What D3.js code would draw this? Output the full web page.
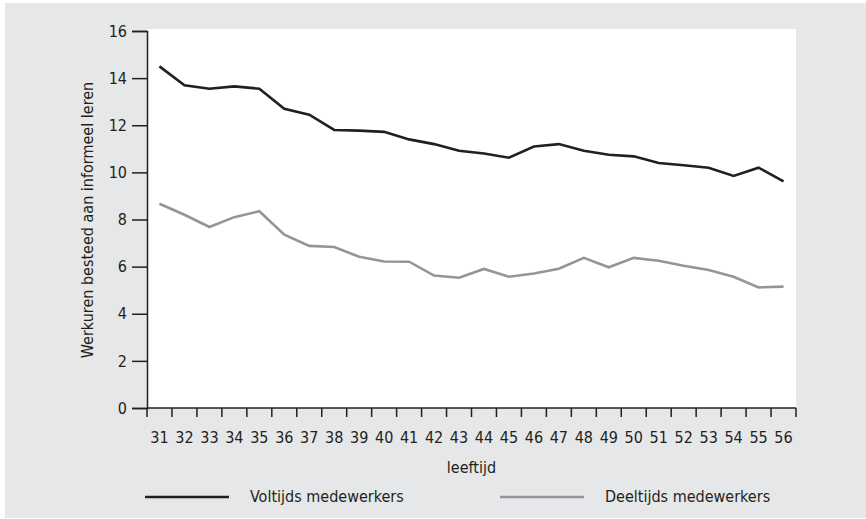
<html>
<head>
<script src="https://d3js.org/d3.v7.min.js"></script>
<style>
  body { margin: 0; background: #ffffff; }
  svg text { font-family: "Liberation Sans Narrow", "DejaVu Sans Condensed", "Roboto", sans-serif; fill: #231f20; }
</style>
</head>
<body>
<script>
// ages on the x axis
var ages = [31,32,33,34,35,36,37,38,39,40,41,42,43,44,45,46,47,48,49,50,51,52,53,54,55,56];

// hours spent on informal learning
var voltijds = [14.5,13.7,13.55,13.65,13.55,12.7,12.45,11.8,11.77,11.72,11.4,11.2,10.92,10.8,10.62,11.1,11.2,10.92,10.75,10.68,10.4,10.3,10.2,9.85,10.2,9.62];
var deeltijds = [8.67,8.2,7.68,8.1,8.35,7.36,6.88,6.83,6.42,6.22,6.21,5.62,5.53,5.9,5.57,5.71,5.91,6.37,5.97,6.37,6.25,6.04,5.86,5.57,5.12,5.15];

var yTicks = [0,2,4,6,8,10,12,14,16];

var width = 866, height = 519;
var plot = {left: 147, right: 796, top: 31, bottom: 408};

var svg = d3.select("body").append("svg")
    .attr("width", width)
    .attr("height", height);

svg.append("rect")
    .attr("x", 5).attr("y", 3)
    .attr("width", width - 5).attr("height", 515)
    .attr("fill", "#e6e7e8");

svg.append("rect")
    .attr("x", plot.left).attr("y", 29)
    .attr("width", plot.right - plot.left).attr("height", plot.bottom - 29)
    .attr("fill", "#ffffff");

var xScale = d3.scaleBand()
    .domain(ages)
    .range([plot.left, plot.right]);

var yScale = d3.scaleLinear()
    .domain([0, 16])
    .range([plot.bottom, plot.top]);

// y axis
var yAxis = d3.axisLeft(yScale)
    .tickValues(yTicks)
    .tickSize(15)
    .tickPadding(5);

var gy = svg.append("g")
    .attr("transform", "translate(" + plot.left + ",0)")
    .call(yAxis);
gy.select(".domain").attr("stroke", "#231f20").attr("stroke-width", 1.5);
gy.selectAll(".tick line").attr("stroke", "#231f20").attr("stroke-width", 1.5);
gy.selectAll(".tick text").style("font-size", "16px").attr("fill", "#231f20");

// x axis: ticks between the bands, labels at band centres
var gx = svg.append("g")
    .attr("transform", "translate(0," + plot.bottom + ")");

gx.append("line")
    .attr("x1", plot.left).attr("x2", plot.right)
    .attr("stroke", "#231f20").attr("stroke-width", 1.5);

var bounds = ages.map(function(a) { return xScale(a); }).concat([plot.right]);
gx.selectAll(".xt")
    .data(bounds)
    .enter()
    .append("line")
    .attr("x1", function(d) { return d; })
    .attr("x2", function(d) { return d; })
    .attr("y1", 0).attr("y2", 9)
    .attr("stroke", "#231f20").attr("stroke-width", 1.5);

gx.selectAll(".xl")
    .data(ages)
    .enter()
    .append("text")
    .attr("x", function(d) { return xScale(d) + xScale.bandwidth() / 2; })
    .attr("y", 35)
    .attr("text-anchor", "middle")
    .style("font-size", "16px")
    .text(function(d) { return d; });

// lines
var line = d3.line()
    .x(function(d, i) { return xScale(ages[i]) + xScale.bandwidth() / 2; })
    .y(function(d) { return yScale(d); });

svg.append("path")
    .datum(deeltijds)
    .attr("d", line)
    .attr("fill", "none")
    .attr("stroke", "#939598")
    .attr("stroke-width", 2.6);

svg.append("path")
    .datum(voltijds)
    .attr("d", line)
    .attr("fill", "none")
    .attr("stroke", "#231f20")
    .attr("stroke-width", 2.6);

// labels
svg.append("text")
    .attr("x", (plot.left + plot.right) / 2)
    .attr("y", 473)
    .attr("text-anchor", "middle")
    .style("font-size", "16px")
    .text("leeftijd");

svg.append("text")
    .attr("transform", "translate(93,220) rotate(-90)")
    .attr("text-anchor", "middle")
    .style("font-size", "16px")
    .text("Werkuren besteed aan informeel leren");

// legend
var legend = [
    {name: "Voltijds medewerkers", color: "#231f20", x: 145},
    {name: "Deeltijds medewerkers", color: "#939598", x: 500}
];
var lg = svg.selectAll(".legend")
    .data(legend)
    .enter()
    .append("g")
    .attr("transform", function(d) { return "translate(" + d.x + ",497)"; });
lg.append("line")
    .attr("x1", 0).attr("x2", 84)
    .attr("stroke", function(d) { return d.color; })
    .attr("stroke-width", 2.6);
lg.append("text")
    .attr("x", 105)
    .attr("y", 5)
    .style("font-size", "16px")
    .text(function(d) { return d.name; });
</script>
</body>
</html>
